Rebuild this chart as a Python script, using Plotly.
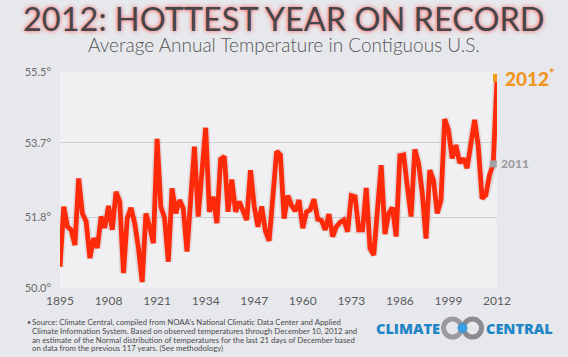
import plotly.graph_objects as go

years = list(range(1895, 2013))
temps = [
    50.54, 52.07, 51.56, 51.48, 51.09, 52.79, 51.90, 51.69, 50.76, 51.27,
    51.02, 51.82, 51.53, 52.09, 51.48, 52.45, 52.20, 50.38, 51.78, 52.04,
    51.65, 51.02, 50.15, 51.90, 51.56, 51.14, 53.80, 52.07, 51.78, 50.67,
    52.54, 51.90, 52.24, 52.03, 50.93, 52.27, 53.60, 51.82, 52.95, 54.08,
    51.94, 52.33, 51.65, 53.28, 53.35, 51.94, 52.76, 51.94, 52.20, 51.97,
    51.73, 53.00, 52.08, 51.56, 52.08, 51.45, 51.20, 52.33, 53.48, 53.39,
    51.77, 52.35, 52.10, 51.96, 52.24, 51.52, 51.94, 51.99, 52.26, 51.75,
    51.72, 51.48, 51.88, 51.31, 51.56, 51.67, 51.73, 51.43, 52.35, 52.32,
    51.48, 51.48, 52.55, 51.01, 50.84, 52.00, 53.13, 51.37, 51.90, 52.05,
    51.31, 53.37, 53.39, 52.58, 51.82, 53.53, 53.18, 52.41, 51.26, 53.00,
    52.75, 51.90, 52.24, 54.30, 54.02, 53.30, 53.64, 53.18, 53.30, 53.05,
    53.68, 54.28, 53.60, 52.28, 52.37, 52.88, 53.16, 55.35,
]
x_ticks = [1895, 1908, 1921, 1934, 1947, 1960, 1973, 1986, 1999, 2012]
y_ticks = [50.0, 51.8, 53.7, 55.5]
y_tick_text = ["50.0°", "51.8°", "53.7°", "55.5°"]

title_text = "2012: HOTTEST YEAR ON RECORD"
subtitle_text = "Average Annual Temperature in Contiguous U.S."
footnote_lines = [
    "Source: Climate Central, compiled from NOAA's National Climatic Data Center and Applied",
    "Climate Information System. Based on observed temperatures through December 10, 2012 and",
    "an estimate of the Normal distribution of temperatures for the last 21 days of December based",
    "on data from the previous 117 years. (See methodology)",
]

fig = go.Figure()

# soft shadow under the line
fig.add_trace(go.Scatter(
    x=years, y=temps, mode="lines",
    line=dict(color="rgba(120,40,30,0.12)", width=8),
    hoverinfo="skip", showlegend=False,
))
fig.add_trace(go.Scatter(
    x=years, y=temps, mode="lines",
    line=dict(color="#ff2a0a", width=4.8),
    showlegend=False,
))
fig.add_trace(go.Scatter(
    x=[years[-2]], y=[temps[-2]], mode="markers",
    marker=dict(symbol="square", size=7, color="#a3a3a5"),
    showlegend=False,
))
fig.add_trace(go.Scatter(
    x=[years[-1]], y=[temps[-1]], mode="markers",
    marker=dict(symbol="square", size=8, color="#f59a1c"),
    showlegend=False,
))

font_main = "Lato, 'Open Sans', sans-serif"

W, H = 568, 357
ML, MR, MT, MB = 60, 71, 72, 69
pw, ph = W - ML - MR, H - MT - MB


def px2paper(xp, yp):
    return (xp - ML) / pw, (H - MB - yp) / ph


def pix_ann(text, xp, yp, font, xanchor="left", yanchor="middle", align="left"):
    x, y = px2paper(xp, yp)
    return dict(text=text, x=x, y=y, xref="paper", yref="paper",
                showarrow=False, xanchor=xanchor, yanchor=yanchor,
                align=align, font=font, borderpad=0)


annotations = [
    pix_ann(title_text, W / 2, 19,
            dict(family=font_main, size=32.5, color="#464648",
                 shadow="0px 0px 4px rgba(255,60,60,0.9)"), "center"),
    pix_ann(subtitle_text, W / 2, 44,
            dict(family=font_main, size=19, color="#555558", weight=300), "center"),
    dict(text="2012<sup>*</sup>", x=years[-1], y=temps[-1], xref="x", yref="y",
         showarrow=False, xanchor="left", yanchor="middle", xshift=6,
         font=dict(family=font_main, size=19, color="#f0951c", weight=900)),
    dict(text="2011", x=years[-2], y=temps[-2], xref="x", yref="y",
         showarrow=False, xanchor="left", yanchor="middle", xshift=6,
         font=dict(family=font_main, size=12, color="#9c9c9e", weight=900)),
    pix_ann("CLIMATE", 375, 328,
            dict(family="'Open Sans', sans-serif", size=14.5, color="#1f86c6", weight=800)),
    pix_ann("CENTRAL", 485, 328,
            dict(family="'Open Sans', sans-serif", size=14.5, color="#1f86c6", weight=800)),
    pix_ann("•", 26, 322, dict(family=font_main, size=7, color="#555")),
]
for i, line in enumerate(footnote_lines):
    annotations.append(pix_ann(line, 31, 322 + i * 8.8,
                               dict(family=font_main, size=7.8, color="#4a4a4c")))

shapes = []
# logo rings
for cx, col in [(452.5, "#9a9b9e"), (472.5, "#8b8c90")]:
    x0, y0 = px2paper(cx - 9, 319)
    x1, y1 = px2paper(cx + 9, 337)
    shapes.append(dict(type="circle", xref="paper", yref="paper",
                       x0=x0, y0=y1, x1=x1, y1=y0,
                       line=dict(color=col, width=5), fillcolor="rgba(0,0,0,0)"))
x0, y0 = px2paper(458, 323.5)
x1, y1 = px2paper(467, 332.5)
shapes.append(dict(type="circle", xref="paper", yref="paper",
                   x0=x0, y0=y1, x1=x1, y1=y0,
                   line=dict(color="#2a93d5", width=1), fillcolor="#3aa0e0"))

fig.update_layout(
    width=W, height=H,
    margin=dict(l=ML, r=MR, t=MT, b=MB),
    paper_bgcolor="#e7e8ec",
    plot_bgcolor="#f0f0f2",
    showlegend=False,
    annotations=annotations,
    shapes=shapes,
    xaxis=dict(
        range=[1895, 2012], tickvals=x_ticks, ticktext=[str(t) for t in x_ticks],
        showgrid=False, zeroline=False, showline=False, ticks="",
        tickfont=dict(family=font_main, size=12, color="#5a5a5c"),
        ticklabelstandoff=4,
    ),
    yaxis=dict(
        range=[50, 55.5], tickvals=y_ticks, ticktext=y_tick_text,
        showgrid=True, gridcolor="#cfd0d3", gridwidth=1,
        zeroline=False, showline=False, ticks="",
        tickfont=dict(family=font_main, size=11, color="#6a6a6c"),
        ticklabelstandoff=8,
    ),
)

fig.write_html(
    "out.html",
    config={"displayModeBar": False},
    post_script="document.body.style.margin='0';document.body.style.overflow='hidden';",
)
